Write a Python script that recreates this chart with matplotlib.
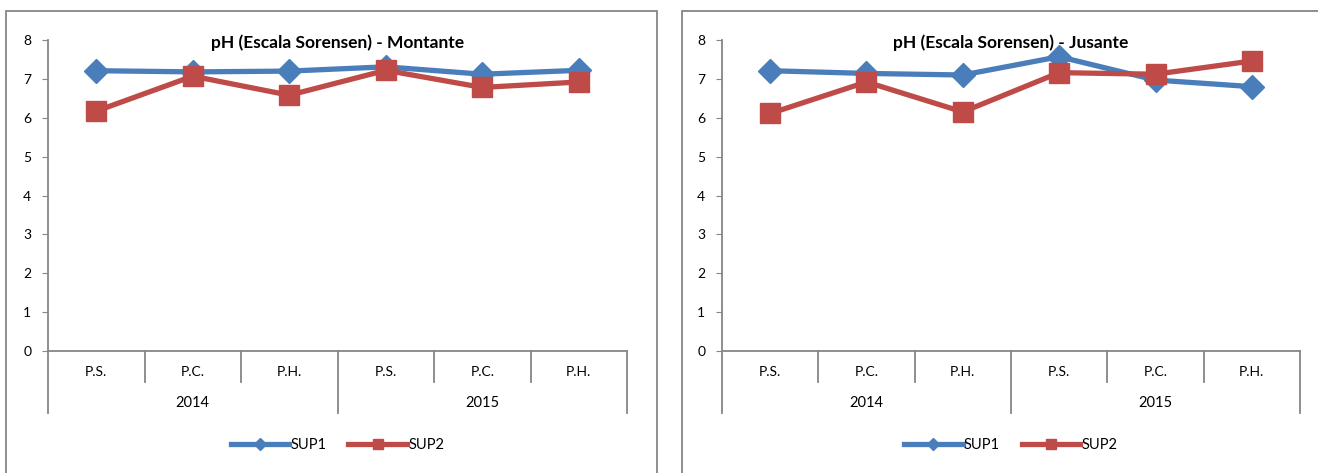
import numpy as np
import matplotlib.pyplot as plt
from matplotlib.patches import Rectangle

plt.rcParams['font.family'] = ['Lato', 'DejaVu Sans']

# categories and year groups on the x axis
campaigns = ['P.S.', 'P.C.', 'P.H.', 'P.S.', 'P.C.', 'P.H.']
years = ['2014', '2015']
yTicks = [0, 1, 2, 3, 4, 5, 6, 7, 8]

# pH values, upstream (Montante)
montanteSup1 = [7.21, 7.18, 7.20, 7.31, 7.12, 7.22]
montanteSup2 = [6.17, 7.07, 6.58, 7.22, 6.78, 6.92]

# pH values, downstream (Jusante)
jusanteSup1 = [7.21, 7.14, 7.10, 7.57, 6.97, 6.80]
jusanteSup2 = [6.11, 6.92, 6.15, 7.16, 7.12, 7.46]

blue = '#4a7ebb'
red = '#be4b48'
gray = '#868686'

W, H = 1318, 473
fig = plt.figure(figsize=(W / 100, H / 100), dpi=100)

# chart area borders (they run off the bottom / right edge)
fig.patches.append(Rectangle((6 / W, -0.1), 651 / W, (H - 11) / H + 0.1,
                             transform=fig.transFigure, fill=False,
                             edgecolor=gray, linewidth=1.3))
fig.patches.append(Rectangle((682 / W, -0.1), 700 / W, (H - 11) / H + 0.1,
                             transform=fig.transFigure, fill=False,
                             edgecolor=gray, linewidth=1.3))


def drawPanel(left, right, sup1, sup2, title):
    ax = fig.add_axes([left / W, (H - 351) / H, (right - left) / W, 311 / H])
    x = np.arange(len(campaigns))
    ax.plot(x, sup1, color=blue, linewidth=3.8, marker='D', markersize=12,
            label='SUP1', zorder=3)
    ax.plot(x, sup2, color=red, linewidth=3.8, marker='s', markersize=14,
            label='SUP2', zorder=4)
    ax.set_xlim(-0.5, len(campaigns) - 0.5)
    ax.set_ylim(0, 8)
    ax.set_yticks(yTicks)
    ax.tick_params(axis='y', length=4, color=gray, labelsize=10, pad=8)
    ax.set_xticks([])
    for side in ['top', 'right']:
        ax.spines[side].set_visible(False)
    for side in ['left', 'bottom']:
        ax.spines[side].set_color(gray)
        ax.spines[side].set_linewidth(1.3)

    # two-level category axis: separators and labels
    tr = ax.get_xaxis_transform()
    for b in np.arange(-0.5, len(campaigns), 1.0):
        isGroupEdge = (b + 0.5) % 3 == 0
        ax.plot([b, b], [0, -0.2 if isGroupEdge else -0.1], color=gray,
                linewidth=1.3, transform=tr, clip_on=False)
    for i, label in enumerate(campaigns):
        ax.text(i, -0.068, label, transform=tr, ha='center', va='center',
                fontsize=10)
    for j, yr in enumerate(years):
        ax.text(j * 3 + 1, -0.168, yr, transform=tr, ha='center',
                va='center', fontsize=10.5)

    ax.text(0.5, 0.99, title, transform=ax.transAxes, ha='center',
            va='center', fontsize=12.5, fontweight='bold')
    ax.legend(loc='center', bbox_to_anchor=(0.5, -0.303), ncol=2,
              frameon=False, fontsize=10.5, markerscale=0.5,
              handlelength=4.0, handletextpad=0.1, columnspacing=1.5)
    return ax


drawPanel(48, 627, montanteSup1, montanteSup2,
          'pH (Escala Sorensen) - Montante')
drawPanel(722, 1300, jusanteSup1, jusanteSup2,
          'pH (Escala Sorensen) - Jusante')

fig.savefig('out.png', dpi=100)
